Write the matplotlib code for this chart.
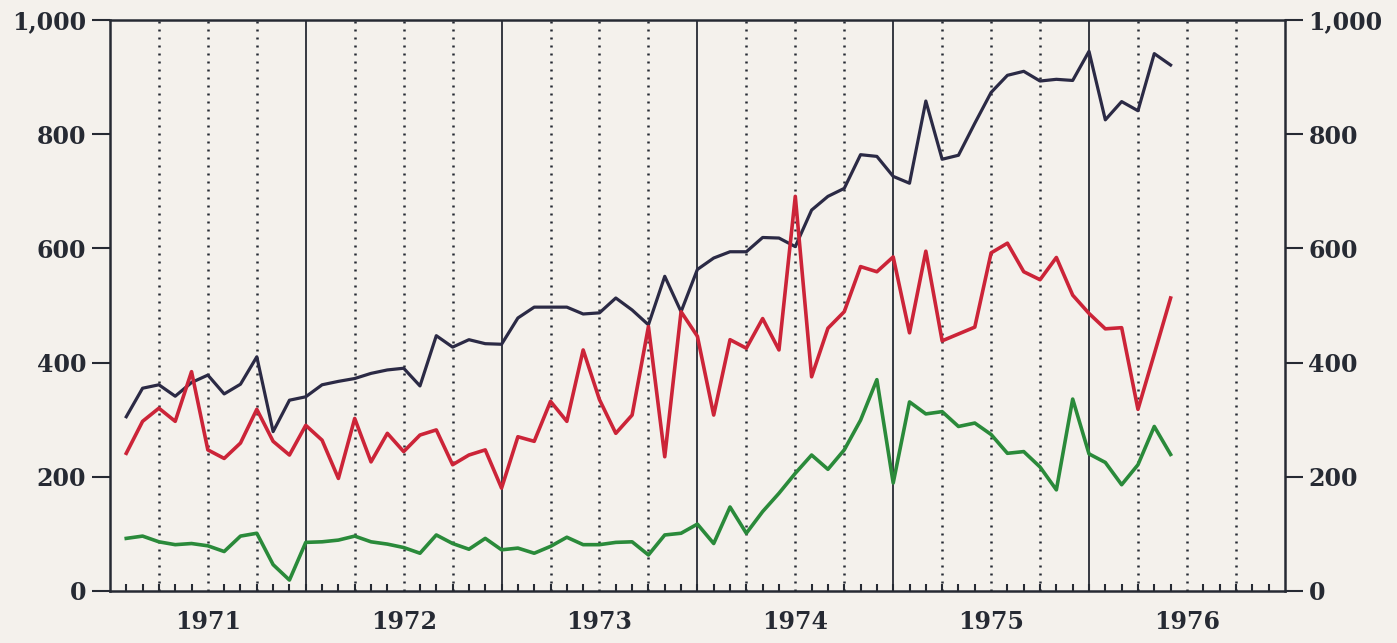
import numpy as np
import matplotlib.pyplot as plt
from matplotlib.ticker import FuncFormatter

# ── Data: monthly values, Jan 1971 .. May 1976 ─────────────────────────────────
dark = [305, 355, 361, 341, 365, 378, 345, 362, 410, 279, 334, 340,
        361, 367, 372, 381, 387, 390, 359, 447, 427, 440, 433, 432,
        478, 497, 497, 497, 485, 487, 513, 492, 466, 551, 489, 563,
        583, 594, 594, 619, 618, 603, 667, 691, 705, 764, 761, 726,
        714, 858, 756, 763, 819, 873, 903, 910, 893, 896, 894, 945,
        825, 857, 841, 941, 921]
red = [241, 297, 320, 297, 384, 247, 232, 259, 318, 262, 238, 290,
       264, 197, 302, 226, 276, 244, 273, 282, 221, 238, 247, 180,
       270, 262, 332, 297, 422, 335, 276, 308, 463, 235, 489, 446,
       308, 440, 425, 477, 422, 691, 375, 460, 489, 568, 559, 585,
       452, 595, 438, 450, 462, 592, 609, 559, 545, 584, 518, 486,
       459, 461, 318, 415, 513]
green = [92, 96, 86, 81, 83, 79, 69, 96, 101, 46, 19, 85,
         86, 89, 96, 86, 82, 76, 66, 98, 83, 73, 92, 72,
         75, 66, 78, 94, 81, 81, 85, 86, 63, 98, 101, 117,
         83, 147, 101, 139, 171, 206, 238, 213, 247, 299, 370, 189,
         331, 310, 314, 288, 294, 274, 241, 244, 217, 177, 336, 240,
         225, 186, 221, 288, 239]
years = [1971, 1972, 1973, 1974, 1975, 1976]
yticks = [0, 200, 400, 600, 800, 1000]

# x position of month k (1-based from Jan 1971) = 1971 + k/12
x = 1971 + np.arange(1, len(dark) + 1) / 12.0

bg = '#f4f1ec'
ink = '#262a33'
plt.rcParams['font.family'] = ['DejaVu Serif']

fig = plt.figure(figsize=(13.97, 6.43), dpi=100, facecolor=bg)
ax = fig.add_axes([0.0787, 0.081, 0.841, 0.888])
ax.set_facecolor(bg)

# ── grid: solid at year boundaries, dotted at quarters ────────────────────────
for yr in range(1972, 1977):
    ax.axvline(yr, color=ink, lw=1.3, zorder=1)
for yr in range(1971, 1977):
    for q in (0.25, 0.5, 0.75):
        ax.axvline(yr + q, color=ink, lw=1.8, linestyle=(0, (0.8, 2.4)), zorder=1)

ax.plot(x, dark, color='#2b2a45', lw=2.3, zorder=3)
ax.plot(x, red, color='#cc2438', lw=2.6, zorder=3)
ax.plot(x, green, color='#2a8a3a', lw=2.6, zorder=3)

ax.set_xlim(1971, 1977)
ax.set_ylim(0, 1000)

# year labels at mid-year, month ticks inward along the bottom
ax.set_xticks([y + 0.5 for y in years])
ax.set_xticklabels([str(y) for y in years], fontsize=17, fontweight='bold', color=ink)
ax.set_xticks(1971 + np.arange(1, 72) / 12.0, minor=True)
ax.tick_params(axis='x', which='major', length=0, pad=14)
ax.tick_params(axis='x', which='minor', direction='in', length=5, width=1.5, color=ink,
               top=False)

ax.set_yticks(yticks)
ax.yaxis.set_major_formatter(FuncFormatter(lambda v, p: f'{int(v):,}'))
ax.tick_params(axis='y', which='major', direction='out', length=13, width=1.5,
               color=ink, labelsize=17, labelcolor=ink, left=True, right=True,
               labelleft=True, labelright=True, pad=4)
for lab in ax.get_yticklabels() + ax.yaxis.get_ticklabels(which='major'):
    lab.set_fontweight('semibold')

for s in ax.spines.values():
    s.set_color(ink)
    s.set_linewidth(1.8)

fig.savefig('out.png', dpi=100, facecolor=bg)
